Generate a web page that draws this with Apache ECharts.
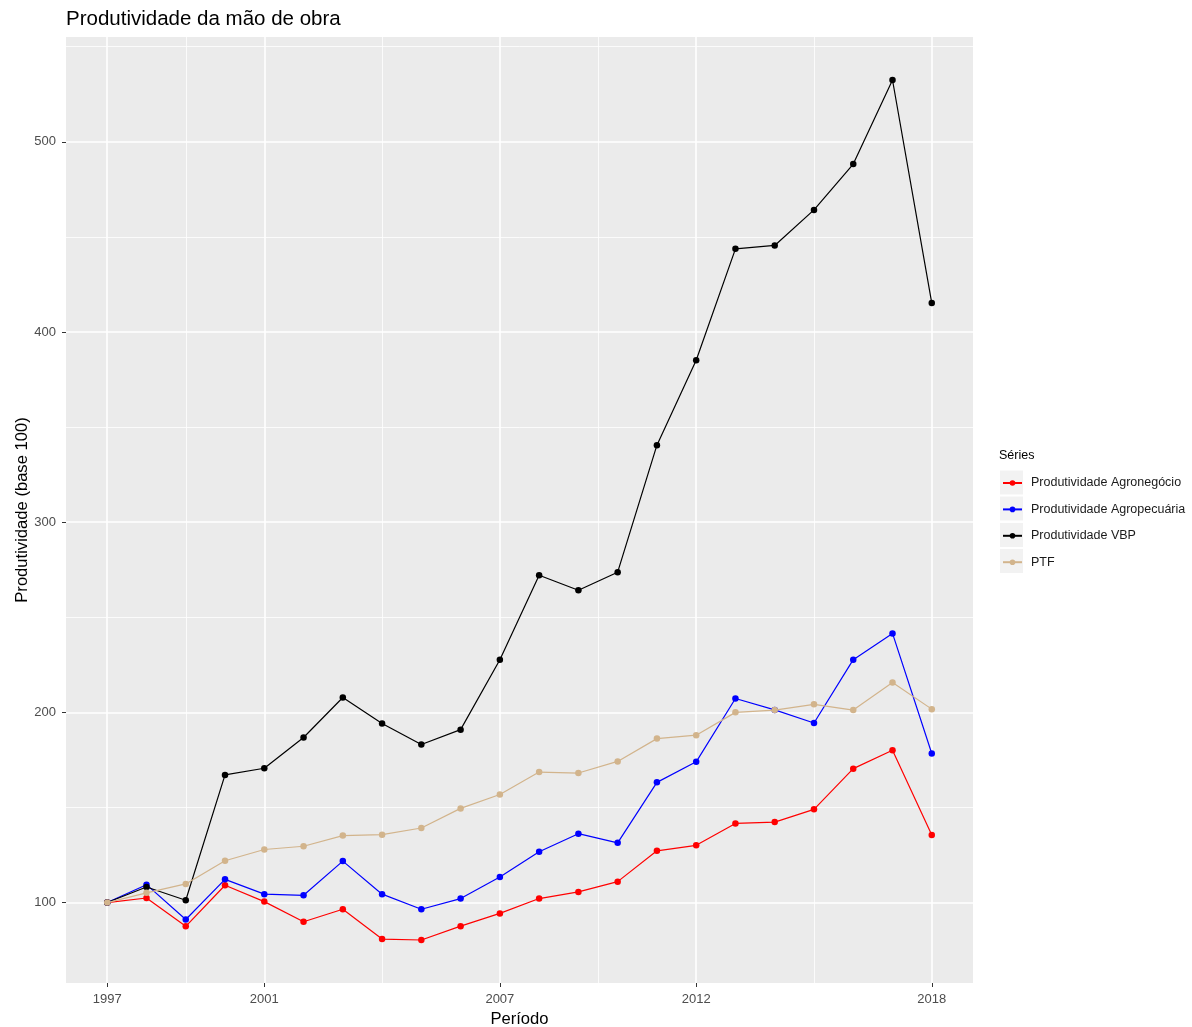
<!DOCTYPE html>
<html>
<head>
<meta charset="utf-8">
<script src="https://cdn.jsdelivr.net/npm/echarts@6/dist/echarts.min.js"></script>
<style>
html,body{margin:0;padding:0;background:#fff;}
#chart{width:1192px;height:1027px;}
</style>
</head>
<body>
<div id="chart"></div>
<script>
var years = [1997,1998,1999,2000,2001,2002,2003,2004,2005,2006,2007,2008,2009,2010,2011,2012,2013,2014,2015,2016,2017,2018];
var agronegocio = [100,102.4,87.5,109.1,100.5,89.9,96.5,80.8,80.3,87.6,94.3,102.1,105.6,111.0,127.2,130.1,141.6,142.3,149.0,170.4,180.1,135.5];
var agropecuaria = [100,109.4,91.1,112.2,104.4,103.8,121.8,104.4,96.5,102.1,113.4,126.7,136.2,131.4,163.2,174.0,207.3,201.3,194.4,227.7,241.5,178.4];
var vbp = [100,108.2,101.2,167.1,170.6,186.8,207.8,194.1,183.1,190.9,227.7,272.1,264.2,273.7,340.5,385.1,443.7,445.5,464.2,488.3,532.5,415.2];
var ptf = [100,105.1,109.8,122.0,127.9,129.6,135.2,135.7,139.2,149.5,156.8,168.6,168.1,174.2,186.2,188.0,200.0,201.2,204.2,201.2,215.7,201.7];
var seriesNames = ['Produtividade Agronegócio','Produtividade Agropecuária','Produtividade VBP','PTF'];
var seriesColors = ['#FF0000','#0000FF','#000000','#D2B48C'];
var xTicks = [1997,2001,2007,2012,2018];
var xMinor = [1999,2004,2009.5,2015];
var yTicks = [100,200,300,400,500];
var yMinor = [150,250,350,450,550];

var FONT = '"Liberation Sans", Arial, sans-serif';
function pairs(vals){ return years.map(function(y,i){ return [y, vals[i]]; }); }
var allVals = [agronegocio, agropecuaria, vbp, ptf];

var gridLines = [];
xTicks.forEach(function(v){ gridLines.push({xAxis: v, lineStyle:{width:1.6}}); });
xMinor.forEach(function(v){ gridLines.push({xAxis: v, lineStyle:{width:0.8}}); });
yTicks.forEach(function(v){ gridLines.push({yAxis: v, lineStyle:{width:1.6}}); });
yMinor.forEach(function(v){ gridLines.push({yAxis: v, lineStyle:{width:0.8}}); });

var series = [{
  name: 'grid', type: 'line', data: [], silent: true, z: 1,
  markLine: {
    silent: true, symbol: ['none','none'], label: {show:false}, z: 1,
    lineStyle: {color:'#FFFFFF', type:'solid', width:1.6},
    emphasis: {disabled: true},
    animation: false,
    data: gridLines
  }
}];
seriesNames.forEach(function(n,i){
  series.push({
    name: n, type: 'line', data: pairs(allVals[i]), z: 10 + i,
    symbol: 'circle', symbolSize: 6.5, showSymbol: true,
    itemStyle: {color: seriesColors[i]},
    lineStyle: {color: seriesColors[i], width: 1.2},
    emphasis: {disabled: true},
    animation: false
  });
});

var chart = echarts.init(document.getElementById('chart'), null, {renderer:'canvas'});
chart.setOption({
  backgroundColor: '#FFFFFF',
  animation: false,
  title: {
    text: 'Produtividade da mão de obra', left: 66, top: 9, padding: 0,
    textStyle: {fontFamily: FONT, fontSize: 20.5, fontWeight: 'normal', color: '#000000'}
  },
  grid: {left: 66, right: 219, top: 37, bottom: 44, show: true, backgroundColor: '#EBEBEB', borderWidth: 0, containLabel: false, outerBoundsMode: 'none'},
  xAxis: {
    type: 'value', min: 1995.95, max: 2019.05,
    name: 'Período', nameLocation: 'middle', nameGap: 28, nameMoveOverlap: false,
    nameTextStyle: {fontFamily: FONT, fontSize: 16.6, color: '#000000'},
    axisLine: {show: false},
    axisTick: {show: true, length: 4, lineStyle: {color: '#333333', width: 1}, customValues: xTicks},
    axisLabel: {show: true, margin: 10, fontFamily: FONT, fontSize: 13, color: '#4D4D4D', customValues: xTicks, formatter: function(v){ return String(v); }},
    splitLine: {show: false}
  },
  yAxis: {
    type: 'value', min: 57.7, max: 555.1,
    name: 'Produtividade (base 100)', nameLocation: 'middle', nameGap: 35, nameRotate: 90, nameMoveOverlap: false,
    nameTextStyle: {fontFamily: FONT, fontSize: 16.6, color: '#000000'},
    axisLine: {show: false},
    axisTick: {show: true, length: 4, lineStyle: {color: '#333333', width: 1}, customValues: yTicks},
    axisLabel: {show: true, margin: 10, fontFamily: FONT, fontSize: 13, color: '#4D4D4D', customValues: yTicks, formatter: function(v){ return String(v); }},
    splitLine: {show: false}
  },
  legend: {
    data: seriesNames, orient: 'vertical', left: 1002, top: 476, padding: 0,
    itemWidth: 19, itemHeight: 7, itemGap: 12.4,
    selectedMode: false,
    textStyle: {fontFamily: FONT, fontSize: 12.5, color: '#1A1A1A', lineHeight: 14, padding: [0,0,0,4]}
  },
  graphic: [
    {type:'text', left: 999, top: 449, style:{text:'Séries', font: '12.5px "Liberation Sans", Arial, sans-serif', fill:'#000000'}},
    {type:'rect', shape:{x:1000, y:470.5, width:23, height:24}, style:{fill:'#F2F2F2'}, z:-1},
    {type:'rect', shape:{x:1000, y:496.5, width:23, height:24}, style:{fill:'#F2F2F2'}, z:-1},
    {type:'rect', shape:{x:1000, y:523, width:23, height:24}, style:{fill:'#F2F2F2'}, z:-1},
    {type:'rect', shape:{x:1000, y:549, width:23, height:24}, style:{fill:'#F2F2F2'}, z:-1}
  ],
  series: series
});
</script>
</body>
</html>
